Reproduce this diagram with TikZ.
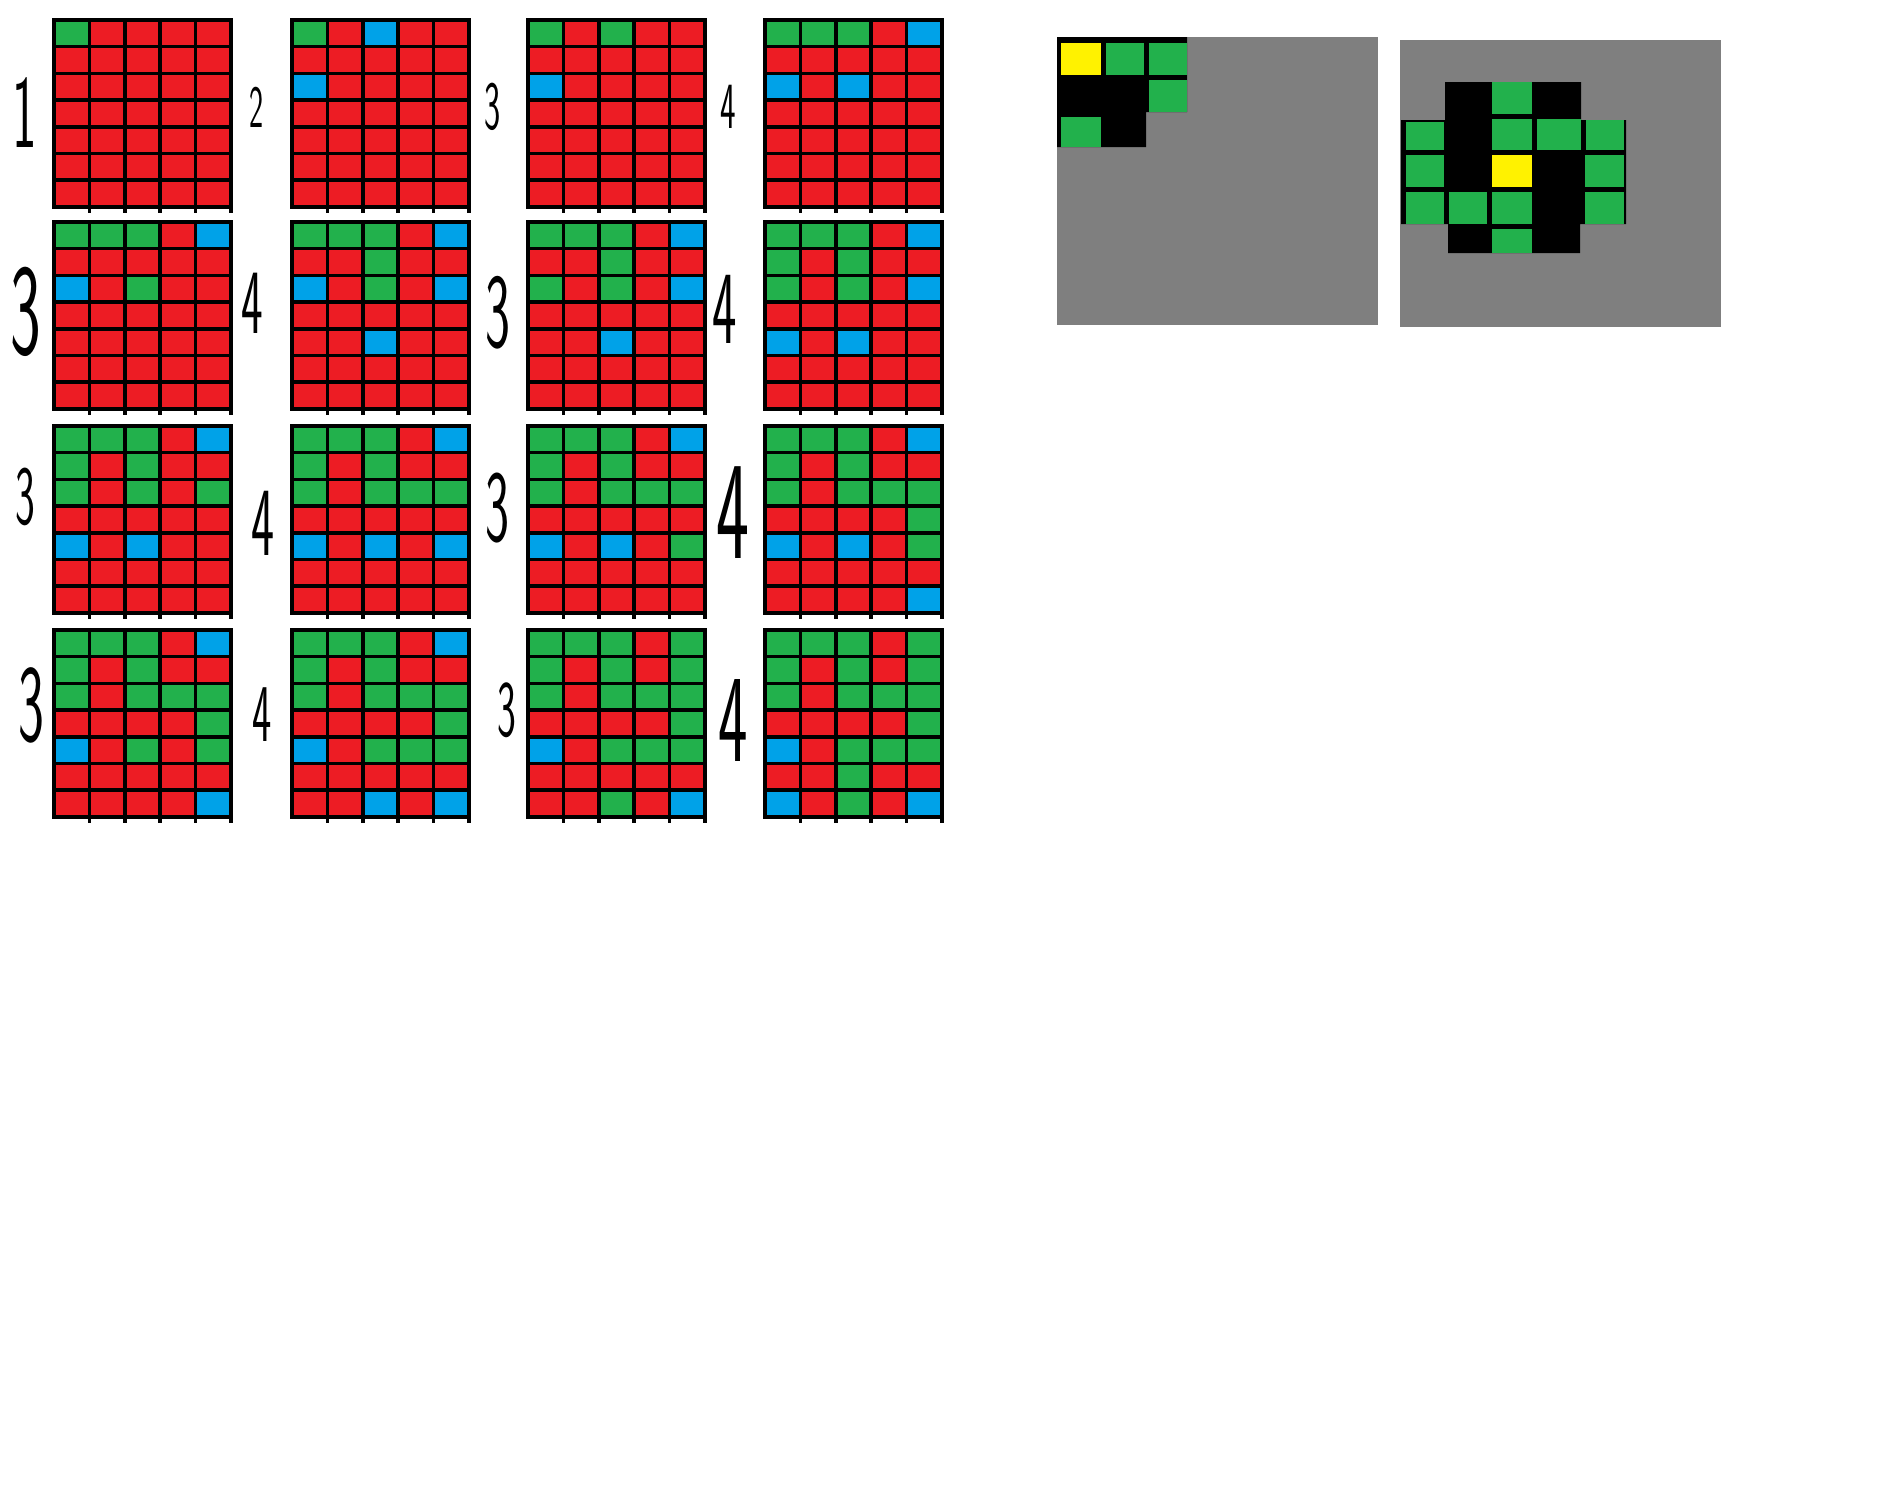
\documentclass[tikz,border=0pt]{standalone}
\usepackage{xcolor}
\usepackage{tikz}
\usetikzlibrary{positioning}
\definecolor{paintR}{HTML}{ED1C24}
\definecolor{paintG}{HTML}{22B14C}
\definecolor{paintB}{HTML}{00A2E8}
\definecolor{paintY}{HTML}{FFF200}
\definecolor{paintGray}{HTML}{7F7F7F}
\newcommand{\cellw}{35.4}
\newcommand{\cellh}{26.7}
% hand-drawn looking digits are tall and narrow
\newcommand{\slim}[1]{\scalebox{0.5}[1]{#1}}
% one 5x7 board, rows given top to bottom
\newcommand{\pixgrid}[3]{%
  \begin{scope}[shift={(#1,#2)}]
    \foreach \cols [count=\r from 0] in {#3}
      \foreach \c [count=\k from 0] in \cols
        \fill[fill=paint\c] (\k*\cellw,\r*\cellh) rectangle ++(\cellw,\cellh);
    \foreach \k in {1,...,5}
      \draw[gridline] (\k*\cellw,0) -- (\k*\cellw,7*\cellh+6);
    \foreach \r in {1,...,6}
      \draw[gridline] (0,\r*\cellh) -- (5*\cellw,\r*\cellh);
    \draw[gridline] (0,0) rectangle (5*\cellw,7*\cellh);
  \end{scope}}

\begin{document}
\begin{tikzpicture}[x=1pt,y=-1pt,
  gridline/.style={line width=3.5pt,draw=black},
  digit/.style={inner sep=0pt,font=\sffamily\fontsize{#1}{#1}\selectfont}]
  \useasboundingbox[fill=white] (0,0) rectangle (1880,1508);

  % row 1
  \pixgrid{54}{20}{{G,R,R,R,R},{R,R,R,R,R},{R,R,R,R,R},{R,R,R,R,R},{R,R,R,R,R},{R,R,R,R,R},{R,R,R,R,R}}
  \pixgrid{292}{20}{{G,R,B,R,R},{R,R,R,R,R},{B,R,R,R,R},{R,R,R,R,R},{R,R,R,R,R},{R,R,R,R,R},{R,R,R,R,R}}
  \pixgrid{528}{20}{{G,R,G,R,R},{R,R,R,R,R},{B,R,R,R,R},{R,R,R,R,R},{R,R,R,R,R},{R,R,R,R,R},{R,R,R,R,R}}
  \pixgrid{765}{20}{{G,G,G,R,B},{R,R,R,R,R},{B,R,B,R,R},{R,R,R,R,R},{R,R,R,R,R},{R,R,R,R,R},{R,R,R,R,R}}
  \node[digit=104] (n11) at (25,113) {\slim{1}};
  \node[digit=60] (n12) at (257,107) {\slim{2}};
  \node[digit=69] (n13) at (493,107) {\slim{3}};
  \node[digit=66] (n14) at (728,107) {\slim{4}};

  % row 2
  \pixgrid{54}{222}{{G,G,G,R,B},{R,R,R,R,R},{B,R,G,R,R},{R,R,R,R,R},{R,R,R,R,R},{R,R,R,R,R},{R,R,R,R,R}}
  \pixgrid{292}{222}{{G,G,G,R,B},{R,R,G,R,R},{B,R,G,R,B},{R,R,R,R,R},{R,R,B,R,R},{R,R,R,R,R},{R,R,R,R,R}}
  \pixgrid{528}{222}{{G,G,G,R,B},{R,R,G,R,R},{G,R,G,R,B},{R,R,R,R,R},{R,R,B,R,R},{R,R,R,R,R},{R,R,R,R,R}}
  \pixgrid{765}{222}{{G,G,G,R,B},{G,R,G,R,R},{G,R,G,R,B},{R,R,R,R,R},{B,R,B,R,R},{R,R,R,R,R},{R,R,R,R,R}}
  \node[digit=130] (n21) at (26,312) {\slim{3}};
  \node[digit=92] (n22) at (252,303) {\slim{4}};
  \node[digit=106] (n23) at (498,313) {\slim{3}};
  \node[digit=104] (n24) at (725,309) {\slim{4}};

  % row 3
  \pixgrid{54}{426}{{G,G,G,R,B},{G,R,G,R,R},{G,R,G,R,G},{R,R,R,R,R},{B,R,B,R,R},{R,R,R,R,R},{R,R,R,R,R}}
  \pixgrid{292}{426}{{G,G,G,R,B},{G,R,G,R,R},{G,R,G,G,G},{R,R,R,R,R},{B,R,B,R,B},{R,R,R,R,R},{R,R,R,R,R}}
  \pixgrid{528}{426}{{G,G,G,R,B},{G,R,G,R,R},{G,R,G,G,G},{R,R,R,R,R},{B,R,B,R,G},{R,R,R,R,R},{R,R,R,R,R}}
  \pixgrid{765}{426}{{G,G,G,R,B},{G,R,G,R,R},{G,R,G,G,G},{R,R,R,R,G},{B,R,B,R,G},{R,R,R,R,R},{R,R,R,R,B}}
  \node[digit=84] (n31) at (25,497) {\slim{3}};
  \node[digit=98] (n32) at (263,523) {\slim{4}};
  \node[digit=102] (n33) at (497,508) {\slim{3}};
  \node[digit=140] (n34) at (733,513) {\slim{4}};

  % row 4
  \pixgrid{54}{630}{{G,G,G,R,B},{G,R,G,R,R},{G,R,G,G,G},{R,R,R,R,G},{B,R,G,R,G},{R,R,R,R,R},{R,R,R,R,B}}
  \pixgrid{292}{630}{{G,G,G,R,B},{G,R,G,R,R},{G,R,G,G,G},{R,R,R,R,G},{B,R,G,G,G},{R,R,R,R,R},{R,R,B,R,B}}
  \pixgrid{528}{630}{{G,G,G,R,G},{G,R,G,R,G},{G,R,G,G,G},{R,R,R,R,G},{B,R,G,G,G},{R,R,R,R,R},{R,R,G,R,B}}
  \pixgrid{765}{630}{{G,G,G,R,G},{G,R,G,R,G},{G,R,G,G,G},{R,R,R,R,G},{B,R,G,G,G},{R,R,G,R,R},{B,R,G,R,B}}
  \node[digit=110] (n41) at (31,705) {\slim{3}};
  \node[digit=82] (n42) at (262,715) {\slim{4}};
  \node[digit=80] (n43) at (507,710) {\slim{3}};
  \node[digit=125] (n44) at (733,720) {\slim{4}};

  % left view
  \fill[paintGray] (1057,37) rectangle (1378,325);
  \fill[black] (1057,37) -- (1187,37) -- (1187,112) -- (1146,112)
    -- (1146,147) -- (1057,147) -- cycle;
  \fill[paintY] (1061,43) rectangle (1101,75);
  \fill[paintG] (1106,43) rectangle (1144,75);
  \fill[paintG] (1149,43) rectangle (1187,75);
  \fill[paintG] (1149,80) rectangle (1187,112);
  \fill[paintG] (1061,117) rectangle (1101,147);

  % right view
  \fill[paintGray] (1400,40) rectangle (1721,327);
  \fill[black] (1445,82) -- (1581,82) -- (1581,120) -- (1626,120)
    -- (1626,224) -- (1580,224) -- (1580,253) -- (1448,253) -- (1448,224)
    -- (1401,224) -- (1401,120) -- (1445,120) -- cycle;
  \fill[paintG] (1492,82) rectangle (1532,114);
  \fill[paintG] (1406,122) rectangle (1444,150);
  \fill[paintG] (1492,119) rectangle (1532,150);
  \fill[paintG] (1537,119) rectangle (1581,150);
  \fill[paintG] (1586,120) rectangle (1624,150);
  \fill[paintG] (1406,155) rectangle (1444,187);
  \fill[paintY] (1492,155) rectangle (1532,187);
  \fill[paintG] (1585,155) rectangle (1624,187);
  \fill[paintG] (1406,192) rectangle (1444,224);
  \fill[paintG] (1449,192) rectangle (1487,224);
  \fill[paintG] (1492,192) rectangle (1532,224);
  \fill[paintG] (1585,192) rectangle (1624,224);
  \fill[paintG] (1492,229) rectangle (1532,253);
\end{tikzpicture}
\end{document}
